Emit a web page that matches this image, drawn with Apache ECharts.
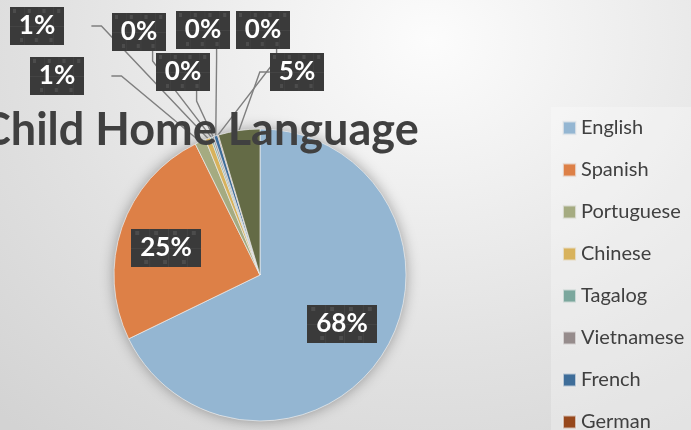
<!DOCTYPE html>
<html>
<head>
<meta charset="utf-8">
<script src="https://cdn.jsdelivr.net/npm/echarts@6/dist/echarts.min.js"></script>
<style>
  html, body { margin: 0; padding: 0; }
  body {
    width: 691px; height: 430px; overflow: hidden;
    background: radial-gradient(ellipse 620px 520px at 430px 40px, #fcfcfc 0%, #efefef 30%, #e2e2e2 60%, #d3d3d3 100%);
  }
  #chart { width: 691px; height: 430px; }
</style>
</head>
<body>
<div id="chart"></div>
<script>
// Home languages of enrolled children (share of total)
const languages = ['English', 'Spanish', 'Portuguese', 'Chinese', 'Tagalog', 'Vietnamese', 'French', 'German', 'Other'];
const shares = [67.8, 24.9, 1.2, 0.6, 0.2, 0.2, 0.4, 0.1, 4.6];
const sliceColors = ['#94B6D2', '#DD8047', '#A5AB81', '#D8B25C', '#7BA79D', '#968C8C', '#3E6D99', '#97481C', '#646B46'];

// label box centres, in slice order
const labelSpots = [
  [342, 324], [166, 248], [57, 76], [37, 26], [139, 32],
  [183, 72], [203, 30], [263, 30], [297, 72]
];

// dark textured tile used behind the data labels
function makeTile(w, h) {
  const c = document.createElement('canvas');
  c.width = w; c.height = h;
  const g = c.getContext('2d');
  g.fillStyle = '#3a3a3a';
  g.fillRect(0, 0, w, h);
  g.fillStyle = '#434343';
  for (let x = 18; x < w; x += 19) g.fillRect(x, 0, 1, h);
  g.fillRect(0, Math.round(h / 2), w, 1);
  g.fillStyle = '#4c4c4c';
  for (let x = 4; x < w; x += 19) {
    g.fillRect(x, 2, 4, 4);
    g.fillRect(x + 9, h - 7, 4, 4);
  }
  return c;
}
const tile = makeTile(70, 38);

const chart = echarts.init(document.getElementById('chart'), null, { renderer: 'canvas' });

const pieData = languages.map((name, i) => ({
  name,
  value: shares[i],
  itemStyle: { color: sliceColors[i] },
  labelLine: { show: i > 1 }
}));

chart.setOption({
  animation: false,
  backgroundColor: 'transparent',
  graphic: [{
    type: 'text',
    left: -19,
    top: 108,
    z: 10,
    style: {
      text: 'Child Home Language',
      font: 'bold 45px Lato',
      fill: '#404040'
    }
  }],
  legend: {
    orient: 'vertical',
    left: 551,
    top: 107,
    height: 520,
    padding: [11, 30, 40, 11],
    backgroundColor: 'rgba(255,255,255,0.28)',
    icon: 'rect',
    itemWidth: 13,
    itemHeight: 13,
    itemGap: 22,
    selectedMode: false,
    textStyle: { fontFamily: 'Lato', fontSize: 20, color: '#404040', lineHeight: 20 },
    data: languages
  },
  series: [
    {
      // soft drop shadow under the pie
      type: 'pie',
      silent: true,
      center: [260, 275],
      radius: 146,
      z: 1,
      label: { show: false },
      labelLine: { show: false },
      itemStyle: { color: '#cfcfcf', shadowBlur: 14, shadowColor: 'rgba(0,0,0,0.35)' },
      data: [{ value: 1, name: '' }],
      legendHoverLink: false
    },
    {
      type: 'pie',
      center: [260, 275],
      radius: 146,
      z: 3,
      startAngle: 90,
      clockwise: true,
      avoidLabelOverlap: false,
      percentPrecision: 0,
      itemStyle: { borderColor: 'rgba(235,235,235,0.7)', borderWidth: 1 },
      label: {
        show: true,
        position: 'outside',
        formatter: '{d}%',
        fontFamily: 'Lato',
        fontWeight: 'bold',
        fontSize: 26,
        lineHeight: 26,
        color: '#ffffff',
        padding: [6, 9, 6, 9],
        backgroundColor: { image: tile },
        shadowColor: 'rgba(0,0,0,0.55)',
        shadowBlur: 7,
        shadowOffsetX: 3,
        shadowOffsetY: 3
      },
      labelLine: {
        show: true,
        length: 8,
        length2: 10,
        lineStyle: { color: '#7f7f7f', width: 1.4 }
      },
      labelLayout: function (p) {
        const s = labelSpots[p.dataIndex];
        return { x: s[0], y: s[1], align: 'center', verticalAlign: 'middle' };
      },
      data: pieData
    }
  ]
});
</script>
</body>
</html>
